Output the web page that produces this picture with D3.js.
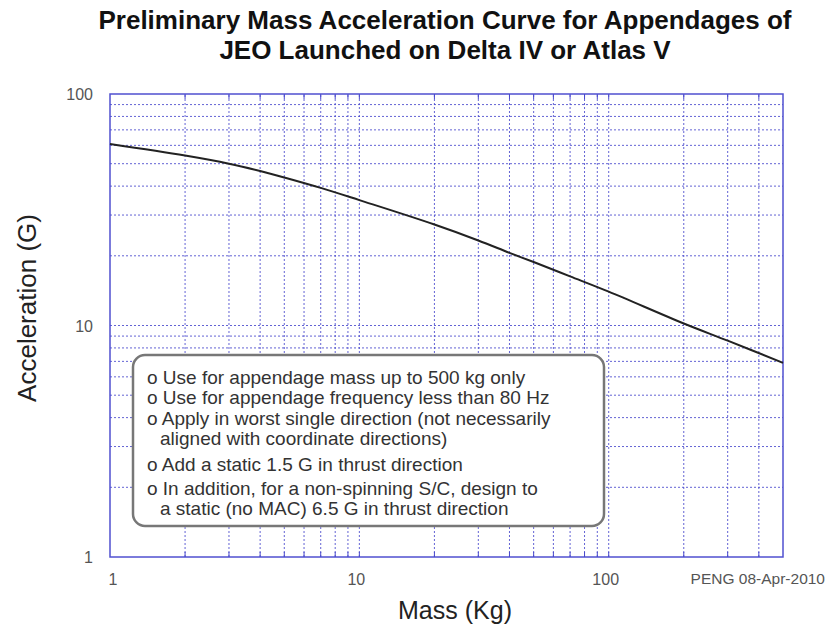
<!DOCTYPE html>
<html>
<head>
<meta charset="utf-8">
<script src="https://cdn.jsdelivr.net/npm/d3@7"></script>
<style>
  body { margin: 0; background: #fff; }
  text { font-family: Arial, "Liberation Sans", sans-serif; }
</style>
</head>
<body>
<div id="chart"></div>
<script>

// Data
var massKg = [1, 2, 3, 4, 5, 7, 10, 20, 30, 40, 50, 70, 100, 200, 300, 500];
var accelG = [60.8, 54.2, 50, 46.5, 43.6, 39.3, 34.8, 27.3, 23.3, 20.6, 18.8, 16.3, 14.0, 10.2, 8.6, 6.9];

var xTickLabels = [1, 10, 100];
var yTickLabels = [1, 10, 100];
var xGrid = [2, 3, 4, 5, 6, 7, 8, 9, 10, 20, 30, 40, 50, 60, 70, 80, 90, 100, 200, 300, 400];
var yGrid = [2, 3, 4, 5, 6, 7, 8, 9, 10, 20, 30, 40, 50, 60, 70, 80, 90];

var titleLines = ["Preliminary Mass Acceleration Curve for Appendages of",
                  "JEO Launched on Delta IV or Atlas V"];
var noteLines = [
    { t: "o Use for appendage mass up to 500 kg only", indent: false },
    { t: "o Use for appendage frequency less than 80 Hz", indent: false },
    { t: "o Apply in worst single direction (not necessarily", indent: false },
    { t: "aligned with coordinate directions)", indent: true },
    { t: "o Add a static 1.5 G in thrust direction", indent: false },
    { t: "o In addition, for a non-spinning S/C, design to", indent: false },
    { t: "a static (no MAC) 6.5 G in thrust direction", indent: true }
];
var noteY = [384, 404, 425, 445, 471, 495, 515];


// SVG drawing area
var width = 827,
    height = 631;

var margin = { left: 110, right: 44, top: 94, bottom: 74 };

var svg = d3.select("#chart").append("svg")
    .attr("width", width)
    .attr("height", height);

var x = d3.scaleLog()
    .domain([1, 500])
    .range([margin.left, width - margin.right]);

var y = d3.scaleLog()
    .domain([1, 100])
    .range([height - margin.bottom, margin.top]);

var gridColor = "#4848cc";


// Grid lines
svg.selectAll(".vgrid")
    .data(xGrid)
    .enter().append("line")
    .attr("class", "vgrid")
    .attr("x1", function(d) { return x(d); })
    .attr("x2", function(d) { return x(d); })
    .attr("y1", y(1))
    .attr("y2", y(100))
    .attr("stroke", gridColor)
    .attr("stroke-opacity", 0.85)
    .attr("stroke-dasharray", "2,2");

svg.selectAll(".hgrid")
    .data(yGrid)
    .enter().append("line")
    .attr("class", "hgrid")
    .attr("x1", x(1))
    .attr("x2", x(500))
    .attr("y1", function(d) { return y(d); })
    .attr("y2", function(d) { return y(d); })
    .attr("stroke", gridColor)
    .attr("stroke-opacity", 0.85)
    .attr("stroke-dasharray", "2,2");

// Frame
svg.append("rect")
    .attr("x", x(1))
    .attr("y", y(100))
    .attr("width", x(500) - x(1))
    .attr("height", y(1) - y(100))
    .attr("fill", "none")
    .attr("stroke", "#5050d0")
    .attr("stroke-width", 1.5);

// Small inward ticks on top and bottom edges
[y(1), y(100)].forEach(function(yy, k) {
    svg.selectAll(".xt" + k)
        .data(xGrid)
        .enter().append("line")
        .attr("x1", function(d) { return x(d); })
        .attr("x2", function(d) { return x(d); })
        .attr("y1", yy)
        .attr("y2", k === 0 ? yy - 5 : yy + 5)
        .attr("stroke", "#4848cc");
});


// Curve
var line = d3.line()
    .x(function(d) { return x(d[0]); })
    .y(function(d) { return y(d[1]); })
    .curve(d3.curveCatmullRom.alpha(0.5));

svg.append("path")
    .datum(d3.zip(massKg, accelG))
    .attr("d", line)
    .attr("fill", "none")
    .attr("stroke", "#222")
    .attr("stroke-width", 2);


// Tick labels
svg.selectAll(".xlab")
    .data(xTickLabels)
    .enter().append("text")
    .attr("x", function(d) { return x(d) - (d === 1 ? -3 : 3); })
    .attr("y", y(1) + 28)
    .attr("text-anchor", "middle")
    .attr("font-size", 16)
    .attr("fill", "#555")
    .text(function(d) { return d; });

svg.selectAll(".ylab")
    .data(yTickLabels)
    .enter().append("text")
    .attr("x", margin.left - 17)
    .attr("y", function(d) { return y(d) + 6; })
    .attr("text-anchor", "end")
    .attr("font-size", 16)
    .attr("fill", "#555")
    .text(function(d) { return d; });


// Titles and axis labels
svg.selectAll(".title")
    .data(titleLines)
    .enter().append("text")
    .attr("x", 445)
    .attr("y", function(d, i) { return 29 + i * 30; })
    .attr("text-anchor", "middle")
    .attr("font-size", 26)
    .attr("font-weight", "bold")
    .attr("fill", "#111")
    .text(function(d) { return d; });

svg.append("text")
    .attr("transform", "translate(36,308) rotate(-90)")
    .attr("text-anchor", "middle")
    .attr("font-size", 26)
    .attr("fill", "#222")
    .text("Acceleration (G)");

svg.append("text")
    .attr("x", 455)
    .attr("y", 619)
    .attr("text-anchor", "middle")
    .attr("font-size", 25)
    .attr("fill", "#222")
    .text("Mass (Kg)");

svg.append("text")
    .attr("x", 825)
    .attr("y", 584)
    .attr("text-anchor", "end")
    .attr("font-size", 15.5)
    .attr("fill", "#555")
    .text("PENG 08-Apr-2010");


// Note box
svg.append("rect")
    .attr("x", 133)
    .attr("y", 355)
    .attr("width", 471)
    .attr("height", 171)
    .attr("rx", 12)
    .attr("fill", "#fff")
    .attr("stroke", "#777")
    .attr("stroke-width", 2.5);

svg.selectAll(".note")
    .data(noteLines)
    .enter().append("text")
    .attr("x", function(d) { return d.indent ? 160 : 147; })
    .attr("y", function(d, i) { return noteY[i]; })
    .attr("font-size", 19)
    .attr("fill", "#333")
    .text(function(d) { return d.t; });

</script>
</body>
</html>
